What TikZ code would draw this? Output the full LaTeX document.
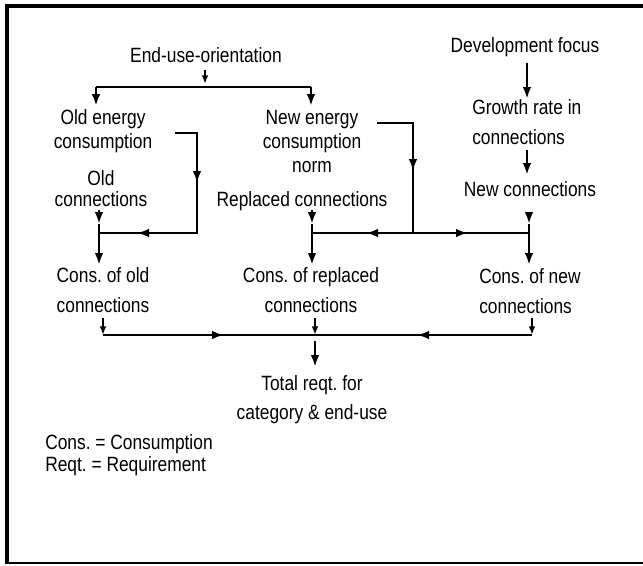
\documentclass[tikz,border=0pt]{standalone}
\usepackage{fontspec}
\setmainfont[FakeStretch=0.84]{Liberation Sans}
\usetikzlibrary{arrows.meta}
\frenchspacing
\begin{document}
\begin{tikzpicture}[x=0.75pt,y=-0.75pt,
  lbl/.style={inner sep=0pt, font=\fontsize{15.5}{18}\selectfont},
  ln/.style={line width=2pt},
  sln/.style={line width=1.5pt},
  tip/.style={-{Latex[length=9pt,width=6.5pt]}},
  smalltip/.style={-{Latex[length=6.5pt,width=5pt]}},
]
\useasboundingbox (0,0) rectangle (643,565);
% outer frame: heavy left and top edges, light bottom edge
\draw[line width=1.5pt] (5,563) -- (643,563);
\draw[line width=3pt] (6.5,564) -- (6.5,6) -- (643,6);

% labels
\node[lbl, anchor=base] (eu) at (206,62) {End-use-orientation};
\node[lbl, align=center] (old) at (103,131) {Old energy\\consumption};
\node[lbl, align=center] (new) at (312,141) {New energy\\consumption\\norm};
\node[lbl, align=center] (oldc) at (101,188.5) {Old\\[-2.25pt]connections};
\node[lbl, anchor=base] (repl) at (302,206) {Replaced connections};
\node[lbl, anchor=base] (dev) at (525,52) {Development focus};
\node[lbl, align=left, anchor=west] (grow) at (472,122) {Growth rate in\\[4.5pt]connections};
\node[lbl, anchor=base] (newc) at (530,196) {New connections};
\node[lbl, align=center] (cold) at (103,290) {Cons. of old\\[4.5pt]connections};
\node[lbl, align=center] (crep) at (311,290) {Cons. of replaced\\[4.5pt]connections};
\node[lbl, align=left, anchor=west] (cnew) at (479,291.5) {Cons. of new\\[4.5pt]connections};
\node[lbl, align=center] (tot) at (312,399.5) {Total reqt. for\\[3.75pt]category \& end-use};
\node[lbl, anchor=base west] (leg1) at (45,449) {Cons. = Consumption};
\node[lbl, anchor=base west] (leg2) at (45,471) {Reqt. = Requirement};

% junction points
\coordinate (bL) at (96,87);
\coordinate (bR) at (311,87);
\coordinate (euS) at (205,70);
\coordinate (euT) at (205,84);
\coordinate (oA) at (175,133);
\coordinate (oB) at (197,133);
\coordinate (oC) at (197,233);
\coordinate (j1) at (99,233);
\coordinate (nA) at (377,123);
\coordinate (nB) at (413,123);
\coordinate (j2) at (312,233);
\coordinate (j3) at (413,233);
\coordinate (j4) at (529,233);
\coordinate (b1) at (103,335);
\coordinate (b2) at (315,335);
\coordinate (b3) at (532,335);

% end-use orientation splits into the two norms
\draw[sln, smalltip] (euS) -- (euT);
\draw[ln] (bL) -- (bR);
\draw[ln, tip] (bL) -- (96,106);
\draw[ln, tip] (bR) -- (311,106);

% old energy consumption feeds the old branch
\draw[ln] (oA) -- (oB) -- (oC) -- (j1);
\draw[ln, tip] (oB) -- (197,183);
\draw[ln, tip] (oC) -- (137,233);
\draw[ln, tip] (99,210) -- (99,224);
\draw[ln] (99,224) -- (j1);
\draw[ln, tip] (j1) -- (99,265);

% new energy norm feeds replaced and new branches
\draw[ln] (nA) -- (nB) -- (j3);
\draw[ln, tip] (nB) -- (413,171);
\draw[ln] (j2) -- (j4);
\draw[ln, tip] (j3) -- (366,233);
\draw[ln, tip] (j3) -- (468,233);

% replaced connections
\draw[ln, tip] (312,210) -- (312,224);
\draw[ln] (312,224) -- (j2);
\draw[ln, tip] (j2) -- (312,265);

% development focus chain
\draw[ln, tip] (527,63) -- (527,99);
\draw[ln, tip] (527,150) -- (527,175);
\draw[ln, tip] (529,212) -- (529,224);
\draw[ln] (529,224) -- (j4);
\draw[ln, tip] (j4) -- (529,265);

% consumption totals
\draw[sln, smalltip] (103,318) -- (b1);
\draw[sln, smalltip] (315,318) -- (b2);
\draw[sln, smalltip] (532,318) -- (b3);
\draw[ln] (b1) -- (b3);
\draw[ln, tip] (b1) -- (224,335);
\draw[ln, tip] (b3) -- (417,335);
\draw[ln, tip] (315,341) -- (315,367);
\end{tikzpicture}
\end{document}
